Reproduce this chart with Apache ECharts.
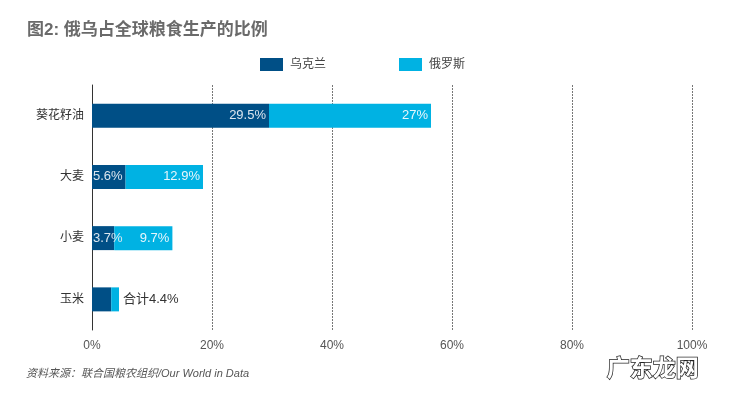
<!DOCTYPE html>
<html>
<head>
<meta charset="utf-8">
<script src="https://cdn.jsdelivr.net/npm/echarts@6/dist/echarts.min.js"></script>
<style>
  html, body { margin: 0; padding: 0; background: #fff; }
  #chart { width: 736px; height: 396px; }
</style>
</head>
<body>
<div id="chart"></div>
<script>
// 数据
var categories = ['葵花籽油', '大麦', '小麦', '玉米'];
var ukraine = [29.5, 5.6, 3.7, 3.2];
var russia = [27, 12.9, 9.7, 1.3];
var totalLabels = ['', '', '', '合计4.4%'];
var xTicks = [0, 20, 40, 60, 80, 100];

var font = '"Liberation Sans", "Noto Sans CJK SC", sans-serif';

var chart = echarts.init(document.getElementById('chart'));

var ukData = ukraine.map(function (v, i) {
    var item = { value: v };
    if (i === 2) {
        item.label = { position: 'insideLeft', distance: 1 };
    } else if (i === 3) {
        item.label = { show: false };
    }
    return item;
});

var ruData = russia.map(function (v, i) {
    var item = { value: v };
    if (totalLabels[i]) {
        item.label = {
            position: 'right',
            distance: 4,
            color: '#333',
            formatter: totalLabels[i]
        };
    }
    return item;
});

var option = {
    backgroundColor: '#fff',
    animation: false,
    textStyle: { fontFamily: font },
    title: {
        text: '图2: 俄乌占全球粮食生产的比例',
        left: 22,
        top: 17,
        textStyle: {
            fontSize: 17,
            fontWeight: 'bold',
            color: '#6a6a6a',
            fontFamily: font
        }
    },
    legend: {
        data: ['乌克兰', '俄罗斯'],
        left: 255,
        top: 53,
        itemWidth: 23,
        itemHeight: 13,
        itemGap: 73,
        icon: 'rect',
        textStyle: { fontSize: 12, color: '#444', padding: [0, 0, 0, 2] }
    },
    grid: {
        left: 92,
        right: 44,
        top: 85,
        bottom: 66,
        containLabel: false
    },
    xAxis: {
        type: 'value',
        min: 0,
        max: 100,
        interval: 20,
        axisLine: { show: false },
        axisTick: { show: false },
        axisLabel: {
            formatter: function (v) { return xTicks.indexOf(v) >= 0 ? v + '%' : ''; },
            color: '#555',
            fontSize: 12,
            margin: 10
        },
        splitLine: {
            show: true,
            lineStyle: { color: '#777', type: [2, 1], width: 1 }
        }
    },
    yAxis: {
        type: 'category',
        data: categories,
        inverse: true,
        axisLine: { show: true, lineStyle: { color: '#333', width: 1 } },
        axisTick: { show: false },
        axisLabel: { color: '#333', fontSize: 12, margin: 8 }
    },
    series: [
        {
            name: '乌克兰',
            type: 'bar',
            stack: 'total',
            barWidth: 24,
            itemStyle: { color: '#004f86' },
            label: {
                show: true,
                position: 'insideRight',
                distance: 3,
                color: '#dbe6ef',
                fontSize: 13,
                formatter: '{c}%'
            },
            data: ukData
        },
        {
            name: '俄罗斯',
            type: 'bar',
            stack: 'total',
            barWidth: 24,
            itemStyle: { color: '#00b2e3' },
            label: {
                show: true,
                position: 'insideRight',
                distance: 3,
                color: '#e6f6fc',
                fontSize: 13,
                formatter: '{c}%'
            },
            data: ruData
        }
    ],
    graphic: [
        {
            type: 'text',
            left: 26,
            top: 368,
            style: {
                text: '资料来源：联合国粮农组织/Our World in Data',
                fill: '#555',
                font: 'italic 11px ' + font
            }
        },
        {
            type: 'text',
            left: 606,
            top: 355,
            style: {
                text: '广东龙网',
                fill: '#fff',
                stroke: '#222',
                lineWidth: 1.5,
                font: 'bold 23px "Noto Sans CJK SC", sans-serif'
            }
        }
    ]
};

chart.setOption(option);
</script>
</body>
</html>
